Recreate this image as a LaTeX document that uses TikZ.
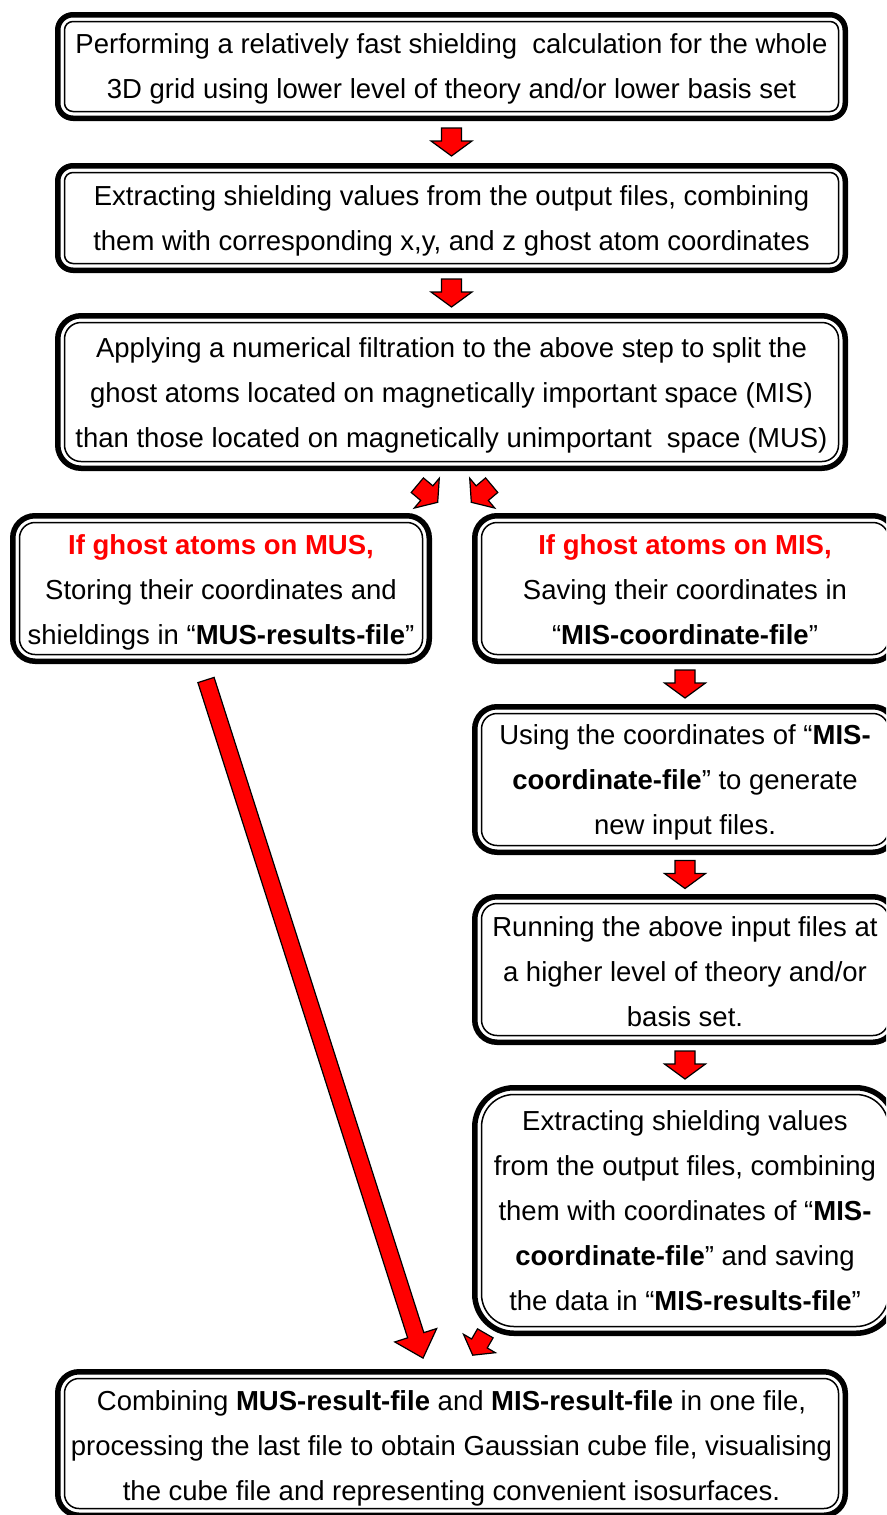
\documentclass[tikz,border=0pt]{standalone}
\usepackage{fontspec}
\setmainfont{Liberation Sans}
\usetikzlibrary{calc}
\definecolor{arrred}{RGB}{255,0,0}
\begin{document}
\begin{tikzpicture}[x=1pt,y=-1pt,
  box/.style={draw, line width=5.5pt, inner sep=0pt, outer sep=0pt, fill=white},
  txt/.style={inner sep=0pt, align=center, font=\fontsize{27.5}{45}\selectfont},
  innerline/.style={draw, line width=1.5pt},
  arrfill/.style={fill=arrred, draw=black, line width=1.2pt, line join=miter},
  downarrow/.pic={\path[arrfill] (-10,-14) -- (10,-14) -- (10,-1) -- (20.5,-1) -- (0,14) -- (-20.5,-1) -- (-10,-1) -- cycle;}
]
\useasboundingbox (0,0) rectangle (886,1515);
\clip (0,0) rectangle (886,1515);

% boxes
\node[box, minimum width=787.5pt, minimum height=103.5pt, rounded corners=15.25pt] (b1) at (451.5,66.5) {};
\node[box, minimum width=787.5pt, minimum height=104.5pt, rounded corners=15.25pt] (b2) at (451.5,218) {};
\node[box, minimum width=787.5pt, minimum height=152.5pt, rounded corners=23.25pt] (b3) at (451.5,392) {};
\node[box, minimum width=416.5pt, minimum height=145.5pt, rounded corners=22.25pt] (b4) at (221,588.5) {};
\node[box, minimum width=420.5pt, minimum height=145.5pt, rounded corners=22.25pt] (b5) at (685,588.5) {};
\node[box, minimum width=420.5pt, minimum height=145.5pt, rounded corners=22.25pt] (b6) at (685,779.5) {};
\node[box, minimum width=420.5pt, minimum height=145.5pt, rounded corners=22.25pt] (b7) at (685,969.5) {};
\node[box, minimum width=420.5pt, minimum height=245.5pt, rounded corners=39.25pt] (b8) at (685,1210.5) {};
\node[box, minimum width=787.5pt, minimum height=143.5pt, rounded corners=21.25pt] (b9) at (451.5,1443.5) {};

\foreach \n/\r in {b1/8.5,b2/8.5,b3/16.5,b4/15.5,b5/15.5,b6/15.5,b7/15.5,b8/32.5,b9/14.5}
  \draw[innerline, rounded corners=\r pt] ([xshift=6.75pt,yshift=-6.75pt]\n.north west) rectangle ([xshift=-6.75pt,yshift=6.75pt]\n.south east);

% texts
\node[txt] (t1) at ([yshift=-2pt]b1.center)
  {Performing a relatively fast shielding~ calculation for the whole\\3D grid using lower level of theory and/or lower basis set};
\node[txt] (t2) at ([yshift=-3pt]b2.center)
  {Extracting shielding values from the output files, combining\\them with corresponding x,y, and z ghost atom coordinates};
\node[txt] (t3) at ([yshift=-3pt]b3.center)
  {Applying a numerical filtration to the above step to split the\\ghost atoms located on magnetically important space (MIS)\\than those located on magnetically unimportant~ space (MUS)};
\node[txt] (t4) at ([yshift=-4pt]b4.center)
  {{\color{arrred}\bfseries If ghost atoms on MUS,}\\Storing their coordinates and\\shieldings in “\textbf{MUS-results-file}”};
\node[txt] (t5) at ([yshift=-1pt]b5.center)
  {{\color{arrred}\bfseries If ghost atoms on MIS,}\\Saving their coordinates in\\“\textbf{MIS-coordinate-file}”};
\node[txt] (t6) at ([yshift=-3pt]b6.center)
  {Using the coordinates of “\textbf{MIS-}\\\textbf{coordinate-file}” to generate\\new input files.};
\node[txt] (t7) at ([yshift=-2pt]b7.center)
  {Running the above input files at\\a higher level of theory and/or\\basis set.};
\node[txt] (t8) at (b8.center)
  {Extracting shielding values\\from the output files, combining\\them with coordinates of “\textbf{MIS-}\\\textbf{coordinate-file}” and saving\\the data in “\textbf{MIS-results-file}”};
\node[txt] (t9) at ([yshift=-5pt]b9.center)
  {Combining \textbf{MUS-result-file} and \textbf{MIS-result-file} in one file,\\processing the last file to obtain Gaussian cube file, visualising\\the cube file and representing convenient isosurfaces.};

% straight block arrows
\coordinate (a12) at ($(b1.south)!0.5!(b2.north)$);
\coordinate (a23) at ($(b2.south)!0.5!(b3.north)$);
\coordinate (a56) at ($(b5.south)!0.5!(b6.north)$);
\coordinate (a67) at ($(b6.south)!0.5!(b7.north)$);
\coordinate (a78) at ($(b7.south)!0.5!(b8.north)$);
\foreach \c in {a12,a23,a56,a67,a78} \pic at (\c) {downarrow};

% slanted block arrows
\coordinate (a34) at ([xshift=-24pt,yshift=-25.5pt]b3.south);
\coordinate (a35) at ([xshift=30pt,yshift=-25.5pt]b3.south);
\coordinate (a89) at ([xshift=27.5pt,yshift=27.5pt]b9.north);
\pic[rotate=50, scale=0.95] at (a34) {downarrow};
\pic[rotate=-50, scale=0.95] at (a35) {downarrow};
\pic[rotate=-30, scale=0.9] at (a89) {downarrow};

% long arrow
\coordinate (lt) at ([xshift=-15pt,yshift=-18.75pt]b4.south);
\coordinate (lh) at ([xshift=-28.5pt,yshift=11.75pt]b9.north);
\begin{scope}[shift={(lt)}, rotate=17.75]
  \path[arrfill] (-8.5,0) -- (8.5,0) -- (8.5,688) -- (22,688) -- (0,712) -- (-22,688) -- (-8.5,688) -- cycle;
\end{scope}
\end{tikzpicture}
\end{document}
